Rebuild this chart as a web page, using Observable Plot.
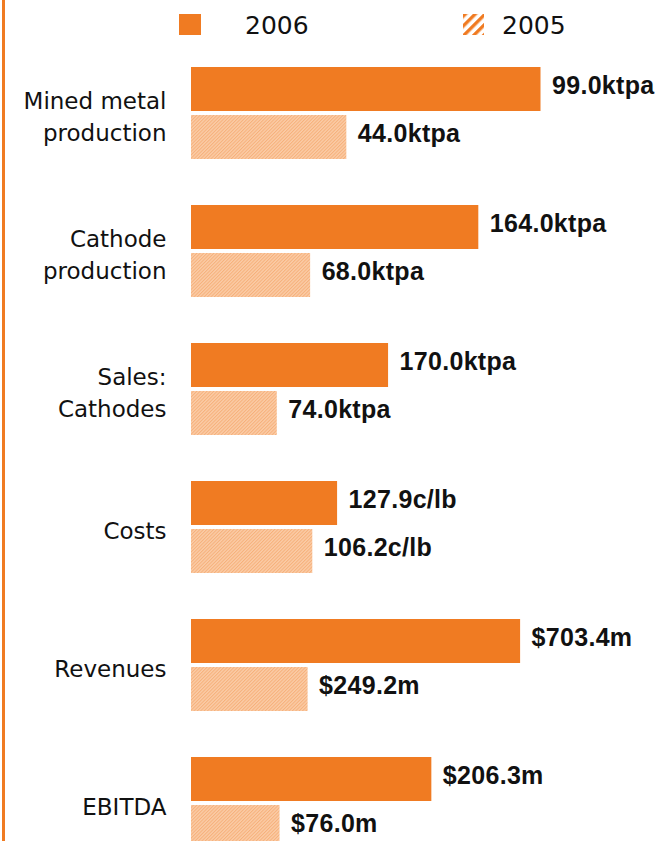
<!DOCTYPE html>
<html>
<head>
<meta charset="utf-8">
<script src="https://cdn.jsdelivr.net/npm/d3@7"></script>
<script src="https://cdn.jsdelivr.net/npm/@observablehq/plot@0.6"></script>
<style>
  html, body { margin: 0; padding: 0; background: #fff; overflow: hidden; }
  #page { position: relative; width: 657px; height: 841px; overflow: hidden; }
  #rule { position: absolute; left: 2px; top: 0; width: 3px; height: 841px; background: #f07b22; }
  .legend-item { position: absolute; top: 0; height: 50px; display: flex; align-items: center;
    font-family: "DejaVu Sans", sans-serif; font-size: 25px; color: #111; }
  .group { position: absolute; left: 0; }
</style>
</head>
<body>
<div id="page">
  <div id="rule"></div>
  <div class="legend-item" style="left:179px;top:0px;">
    <svg width="22" height="22"><rect width="22" height="21" fill="#f07b22"/></svg>
  </div>
  <div class="legend-item" style="left:245px;">2006</div>
  <div class="legend-item" style="left:463px;">
    <svg width="22" height="22">
      <defs>
        <pattern id="legHatch" patternUnits="userSpaceOnUse" width="7" height="7" patternTransform="rotate(45)">
          <rect width="7" height="7" fill="#fff"/>
          <rect width="3.4" height="7" fill="#f07b22"/>
        </pattern>
      </defs>
      <rect width="21" height="21" fill="url(#legHatch)"/>
    </svg>
  </div>
  <div class="legend-item" style="left:502px;">2005</div>
</div>
<script>
// ---- data ----
const categories = ["Mined metal\nproduction", "Cathode\nproduction", "Sales:\nCathodes", "Costs", "Revenues", "EBITDA"];
const years = ["2006", "2005"];
const values2006 = [99.0, 164.0, 170.0, 127.9, 703.4, 206.3];
const values2005 = [44.0, 68.0, 74.0, 106.2, 249.2, 76.0];
const prefixes = ["", "", "", "", "$", "$"];
const units = ["ktpa", "ktpa", "ktpa", "c/lb", "m", "m"];
// each group has its own x-axis domain in the original
const scaleMax = [132, 266, 402, 408, 996, 400];

// ---- layout / style ----
const W = 657;
const groupTop0 = 67;
const groupStep = 138;
const orange = "#f07b22";

const page = document.getElementById("page");

categories.forEach((cat, i) => {
  const rows = [
    {year: "2006", value: values2006[i]},
    {year: "2005", value: values2005[i]}
  ];
  const label = d => prefixes[i] + d.value.toFixed(1) + units[i];
  const pid = "hatch" + i;

  const chart = Plot.plot({
    width: W,
    height: 138,
    marginLeft: 191,
    marginRight: 0,
    marginTop: 0,
    marginBottom: 46,
    style: {background: "transparent", overflow: "visible"},
    x: {domain: [0, scaleMax[i]], axis: null},
    y: {domain: years, axis: null, paddingInner: 0.09, paddingOuter: 0},
    marks: [
      Plot.barX(rows, {
        x: "value", y: "year",
        fill: d => d.year === "2006" ? orange : `url(#${pid})`
      }),
      Plot.text(rows, {
        x: "value", y: "year", text: label,
        textAnchor: "start", dx: 11, dy: -4,
        fontFamily: "Liberation Sans, Arial, sans-serif",
        fontWeight: "bold", fontSize: 25, fill: "#111"
      }),
      Plot.text([cat], {
        frameAnchor: "left", text: d => d,
        textAnchor: "end", dx: -25, dy: 1,
        lineHeight: 1.43,
        fontFamily: "DejaVu Sans, Verdana, sans-serif",
        fontSize: 23, fill: "#111"
      })
    ]
  });

  const svg = d3.select(chart);
  // hatch pattern for the 2005 bars
  const defs = svg.insert("defs", ":first-child");
  const pat = defs.append("pattern")
    .attr("id", pid)
    .attr("patternUnits", "userSpaceOnUse")
    .attr("width", 2.4).attr("height", 2.4)
    .attr("patternTransform", "rotate(45)");
  pat.append("rect").attr("width", 2.4).attr("height", 2.4).attr("fill", "#fbcca7");
  pat.append("rect").attr("width", 1).attr("height", 2.4).attr("fill", "#f6b07a");

  svg.selectAll("g[font-weight='bold']").attr("letter-spacing", "0.3px");

  const wrap = document.createElement("div");
  wrap.className = "group";
  wrap.style.top = (groupTop0 + groupStep * i) + "px";
  wrap.appendChild(chart);
  page.appendChild(wrap);
});
</script>
</body>
</html>
